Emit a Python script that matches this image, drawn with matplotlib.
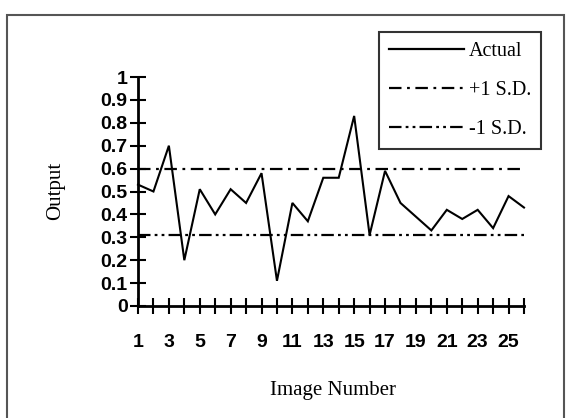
import matplotlib
matplotlib.use("Agg")
import matplotlib.pyplot as plt
from matplotlib.patches import Rectangle
from matplotlib.lines import Line2D

image_number = list(range(1, 27))
actual = [0.53, 0.50, 0.70, 0.20, 0.51, 0.40, 0.51, 0.45, 0.58, 0.11,
          0.45, 0.37, 0.56, 0.56, 0.83, 0.31, 0.59, 0.45, 0.39, 0.33,
          0.42, 0.38, 0.42, 0.34, 0.48, 0.43]
plus_sd = 0.60
minus_sd = 0.31
y_ticks = [0, 0.1, 0.2, 0.3, 0.4, 0.5, 0.6, 0.7, 0.8, 0.9, 1]
y_labels = ["0", "0.1", "0.2", "0.3", "0.4", "0.5", "0.6", "0.7", "0.8", "0.9", "1"]
x_label_ticks = list(range(1, 27, 2))

plt.rcParams['lines.scale_dashes'] = False
W, H = 566, 418
fig = plt.figure(figsize=(W / 100, H / 100), dpi=100)

left, right, top, bottom = 138, 524, 77, 306
ax = fig.add_axes([left / W, 1 - bottom / H, (right - left) / W, (bottom - top) / H])

ax.plot(image_number, actual, color='black', lw=1.5, solid_joinstyle='miter', clip_on=False)
ax.plot([image_number[0], image_number[-1]], [plus_sd, plus_sd], color='black', lw=1.6,
        linestyle=(0, (9, 4, 2, 4)))
ax.plot([image_number[0], image_number[-1]], [minus_sd, minus_sd], color='black', lw=1.6,
        linestyle=(0, (9, 3, 2, 3, 2, 3)))

ax.set_xlim(1, 26)
ax.set_ylim(0, 1)
for s in ['top', 'right']:
    ax.spines[s].set_visible(False)
for s in ['left', 'bottom']:
    ax.spines[s].set_linewidth(2)

ax.set_yticks(y_ticks)
ax.set_yticklabels(y_labels, fontsize=14, fontweight='bold', family='Liberation Sans')
ax.set_xticks(image_number, minor=True)
ax.set_xticks(x_label_ticks)
ax.set_xticklabels([str(v) for v in x_label_ticks], fontsize=14, fontweight='bold', family='Liberation Sans')
ax.tick_params(axis='y', direction='inout', length=11, width=1.5, pad=2)
ax.tick_params(axis='x', which='both', direction='inout', length=12, width=1.5, pad=14)

fig.text(56 / W, 1 - 191 / H, "Output", rotation=90, ha='center', va='center',
         family='Liberation Serif', fontsize=15)
fig.text(333 / W, 1 - 390 / H, "Image Number", ha='center', va='center',
         family='Liberation Serif', fontsize=15)

handles = [Line2D([], [], color='black', lw=1.6),
           Line2D([], [], color='black', lw=1.6, linestyle=(0, (9, 4, 2, 4))),
           Line2D([], [], color='black', lw=1.6, linestyle=(0, (9, 3, 2, 3, 2, 3)))]
leg = fig.legend(handles, ["Actual", "+1 S.D.", "-1 S.D."], loc='upper right',
                 bbox_to_anchor=(541 / W, 1 - 32 / H), frameon=True, fancybox=False,
                 edgecolor='black', handlelength=3.7, handletextpad=0.25,
                 labelspacing=0.98, borderpad=0.5, borderaxespad=0,
                 prop={'family': 'Liberation Serif', 'size': 14.5})
leg.get_frame().set_linewidth(1.5)

fig.add_artist(Rectangle((7 / W, -0.05), (564 - 7) / W, 1 - 15 / H + 0.05,
                         transform=fig.transFigure, fill=False, edgecolor='#555555', lw=1.5))

fig.savefig("out.png", dpi=100)
